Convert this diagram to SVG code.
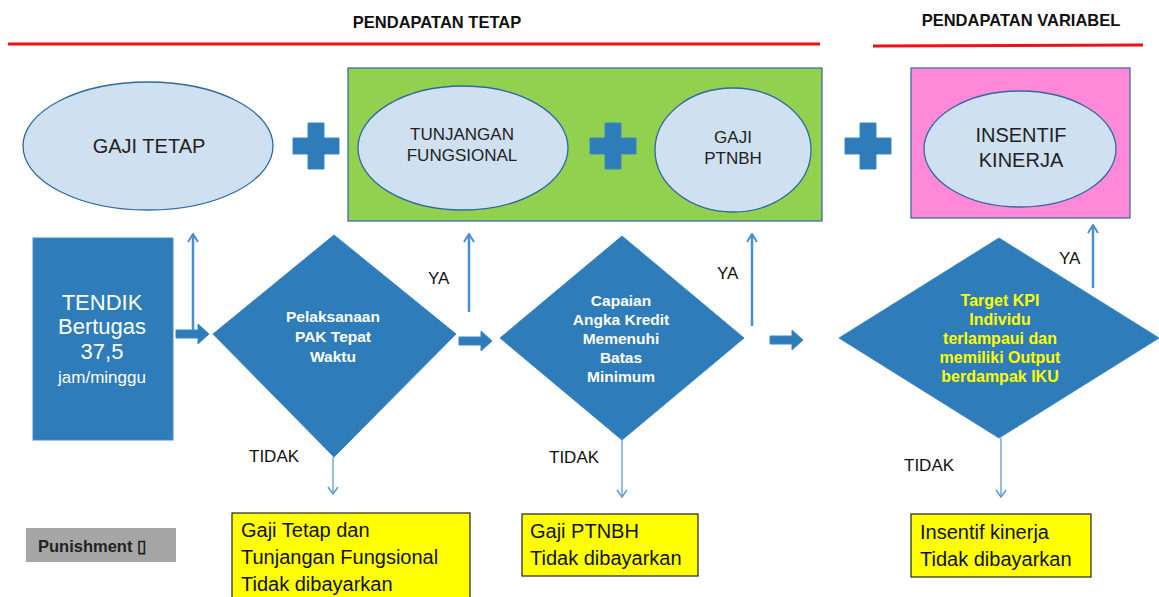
<svg xmlns="http://www.w3.org/2000/svg" width="1159" height="597" viewBox="0 0 1159 597">
<style>
text{font-family:"Liberation Sans",Arial,sans-serif}
.hdr{font-size:16.5px;font-weight:bold;fill:#111;text-anchor:middle}
.red{stroke:#ee1111;stroke-width:3}
.ell{fill:#cfe0f0;stroke:#2e6aa0;stroke-width:1.3}
.et{fill:#222;text-anchor:middle}
.blue{fill:#2e7cba;stroke:#3a86c4;stroke-width:1;stroke-linejoin:round}
.wt{fill:#fff;text-anchor:middle}
.dt{fill:#fff;font-weight:bold;font-size:15.5px;text-anchor:middle}
.yt{fill:#ffff00;font-weight:bold;font-size:16px;text-anchor:middle}
.lbl{font-size:17px;fill:#111}
.ln{stroke:#4a90d0;stroke-width:2.5;fill:none}
.lnt{stroke:#5b9bd5;stroke-width:1.3;fill:none}
.yb{fill:#ffff00;stroke:#222;stroke-width:1.2}
.ybt{font-size:20px;fill:#111}
</style>
<defs>
<marker id="up" markerWidth="10" markerHeight="12" refX="9" refY="6" orient="auto" markerUnits="userSpaceOnUse" viewBox="0 0 10 12">
<path d="M1,1 L9,6 L1,11" fill="none" stroke="#4a90d0" stroke-width="2"/>
</marker>
<marker id="dn" markerWidth="10" markerHeight="12" refX="9" refY="6" orient="auto" markerUnits="userSpaceOnUse" viewBox="0 0 10 12">
<path d="M2,1 L9,6 L2,11" fill="none" stroke="#5b9bd5" stroke-width="1.5"/>
</marker>
<path id="plus" d="M-8,-23 h16 v15 h15 v16 h-15 v15 h-16 v-15 h-15 v-16 h15 z"/>
<path id="barr" d="M0,-4 h22 v-6 l11,10 l-11,10 v-6 h-22 z"/>
</defs>

<g id="headers">
<text class="hdr" x="437" y="28">PENDAPATAN TETAP</text>
<line class="red" x1="8" y1="44" x2="820" y2="44"/>
<text class="hdr" x="1021" y="26">PENDAPATAN VARIABEL</text>
<line class="red" x1="873" y1="46" x2="1143" y2="45"/>
</g>

<g id="gaji-tetap">
<ellipse class="ell" cx="148" cy="146" rx="125" ry="64"/>
<text class="et" x="149" y="153" font-size="20">GAJI TETAP</text>
</g>

<g id="plus1"><use href="#plus" x="316" y="146" class="blue"/></g>

<g id="green-box">
<rect x="348" y="68" width="474" height="153" fill="#92d050" stroke="#3c6fa4" stroke-width="1.3"/>
</g>
<g id="tunjangan">
<ellipse class="ell" cx="463" cy="148" rx="105" ry="62"/>
<text class="et" x="462" y="140" font-size="17">TUNJANGAN</text>
<text class="et" x="462" y="161" font-size="17">FUNGSIONAL</text>
</g>
<g id="plus2"><use href="#plus" x="613" y="146" class="blue"/></g>
<g id="gaji-ptnbh">
<ellipse class="ell" cx="733" cy="150" rx="78" ry="62"/>
<text class="et" x="733" y="143" font-size="17">GAJI</text>
<text class="et" x="733" y="164" font-size="17">PTNBH</text>
</g>
<g id="plus3"><use href="#plus" x="868" y="146" class="blue"/></g>

<g id="pink-box">
<rect x="911" y="68" width="219" height="150" fill="#ff88d8" stroke="#3c6fa4" stroke-width="1.3"/>
</g>
<g id="insentif">
<ellipse class="ell" cx="1020" cy="149" rx="96" ry="58"/>
<text class="et" x="1021" y="142" font-size="20">INSENTIF</text>
<text class="et" x="1021" y="167" font-size="20">KINERJA</text>
</g>

<g id="tendik">
<rect x="33" y="238" width="140" height="202" fill="#2e7cba" stroke="#4a8cc8" stroke-width="1"/>
<text class="wt" x="102" y="310" font-size="22">TENDIK</text>
<text class="wt" x="102" y="334" font-size="22">Bertugas</text>
<text class="wt" x="102" y="359" font-size="22">37,5</text>
<text class="wt" x="102" y="383" font-size="17">jam/minggu</text>
</g>

<g id="diamond1">
<polygon class="blue" points="334,235 456,334 334,457 213,334"/>
<text class="dt" x="333" y="322">Pelaksanaan</text>
<text class="dt" x="333" y="342">PAK Tepat</text>
<text class="dt" x="333" y="362">Waktu</text>
</g>

<g id="diamond2">
<polygon class="blue" points="622,236 744,338 622,440 500,338"/>
<text class="dt" x="621" y="306">Capaian</text>
<text class="dt" x="621" y="325">Angka Kredit</text>
<text class="dt" x="621" y="344">Memenuhi</text>
<text class="dt" x="621" y="363">Batas</text>
<text class="dt" x="621" y="382">Minimum</text>
</g>

<g id="diamond3">
<polygon class="blue" points="999,238 1159,338 999,438 839,338"/>
<text class="yt" x="1000" y="306">Target KPI</text>
<text class="yt" x="1000" y="325">Individu</text>
<text class="yt" x="1000" y="344">terlampaui dan</text>
<text class="yt" x="1000" y="363">memiliki Output</text>
<text class="yt" x="1000" y="382">berdampak IKU</text>
</g>

<g id="punishment">
<rect x="26" y="528" width="150" height="34" fill="#a6a6a6"/>
<text x="38" y="552" font-size="16.5" font-weight="bold" fill="#222">Punishment ▯</text>
</g>

<g id="no1">
<rect class="yb" x="232" y="513" width="238" height="90"/>
<text class="ybt" x="241" y="537">Gaji Tetap dan</text>
<text class="ybt" x="241" y="564">Tunjangan Fungsional</text>
<text class="ybt" x="241" y="591">Tidak dibayarkan</text>
</g>
<g id="no2">
<rect class="yb" x="522" y="514" width="176" height="62"/>
<text class="ybt" x="530" y="538">Gaji PTNBH</text>
<text class="ybt" x="530" y="565">Tidak dibayarkan</text>
</g>
<g id="no3">
<rect class="yb" x="911" y="514" width="180" height="63"/>
<text class="ybt" x="920" y="539">Insentif kinerja</text>
<text class="ybt" x="920" y="566">Tidak dibayarkan</text>
</g>

<g id="connectors">
<line class="ln" x1="193" y1="330" x2="193" y2="234" marker-end="url(#up)"/>
<line class="ln" x1="469" y1="312" x2="469" y2="234" marker-end="url(#up)"/>
<line class="ln" x1="752" y1="326" x2="752" y2="234" marker-end="url(#up)"/>
<line class="ln" x1="1093" y1="288" x2="1093" y2="225" marker-end="url(#up)"/>
<use href="#barr" x="176" y="334" class="blue"/>
<use href="#barr" x="459" y="341" class="blue"/>
<use href="#barr" x="770" y="340" class="blue"/>
<line class="lnt" x1="333" y1="457" x2="333" y2="494" marker-end="url(#dn)"/>
<line class="lnt" x1="622" y1="440" x2="622" y2="497" marker-end="url(#dn)"/>
<line class="lnt" x1="1001" y1="438" x2="1001" y2="497" marker-end="url(#dn)"/>
<text class="lbl" x="428" y="284">YA</text>
<text class="lbl" x="717" y="279">YA</text>
<text class="lbl" x="1059" y="264">YA</text>
<text class="lbl" x="249" y="462">TIDAK</text>
<text class="lbl" x="549" y="463">TIDAK</text>
<text class="lbl" x="904" y="471">TIDAK</text>
</g>
</svg>
